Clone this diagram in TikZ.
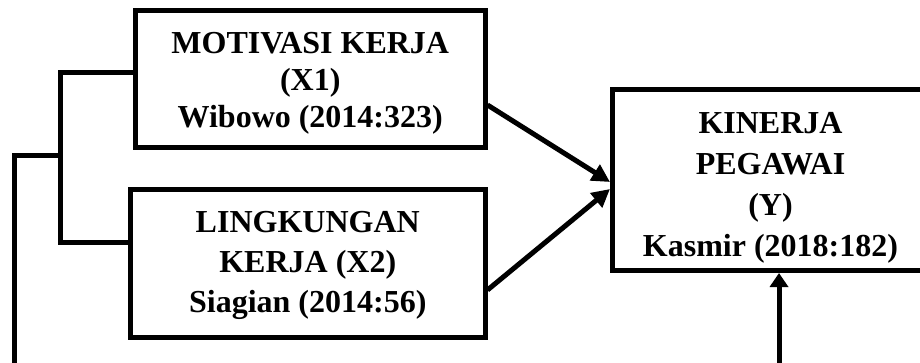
\documentclass[tikz,border=0pt]{standalone}
\usepackage{fontspec}
\setmainfont{Liberation Serif}
\usetikzlibrary{arrows.meta}
\begin{document}
\begin{tikzpicture}[x=1pt,y=-1pt,
  box/.style={draw, line width=5pt, inner sep=0pt},
  txt/.style={align=center, inner sep=0pt},
  conn/.style={line width=5pt},
  arr/.style={line width=5pt, -{Triangle[length=18pt,width=18pt]}},
  uparr/.style={line width=5pt, -{Triangle[length=14pt,width=18pt]}}]
\useasboundingbox (0,0) rectangle (920,362);
\clip (0,0) rectangle (920,362);
\node[box, minimum width=349.5pt, minimum height=137pt] (x1) at (310.25,79) {};
\node[txt, font=\bfseries\fontsize{32}{37}\selectfont] (x1t) at ([yshift=-4pt]x1.center)
  {MOTIVASI KERJA\\(X1)\\Wibowo (2014:323)};
\node[box, minimum width=354.5pt, minimum height=148pt] (x2) at (307.75,263.5) {};
\node[txt, font=\bfseries\fontsize{32}{40}\selectfont] (x2t) at ([yshift=-2pt]x2.center)
  {LINGKUNGAN\\KERJA (X2)\\Siagian (2014:56)};
\node[box, minimum width=320pt, minimum height=181pt] (y) at (772.5,180) {};
\node[txt, font=\bfseries\fontsize{32}{41}\selectfont] (yt) at ([xshift=-2pt,yshift=-8pt]y.center)
  {KINERJA\\PEGAWAI\\(Y)\\Kasmir (2018:182)};
\coordinate (bt) at (60,72);
\coordinate (bb) at (60,242);
\coordinate (bm) at (60,155);
\coordinate (lc) at (14,155);
\coordinate (ld) at (14,400);
\coordinate (rd) at (779,400);
\draw[conn, line join=miter] (x1.west |- bt) -- (bt) -- (bb) -- (x2.west |- bb);
\draw[conn, line join=miter] (bm) -- (lc) -- (ld) -- (rd);
\draw[uparr] (rd) -- (y.south -| rd);
\draw[arr] ([yshift=-26pt]x1.east) -- ([yshift=-2pt]y.west);
\draw[arr] ([yshift=-26.5pt]x2.east) -- ([yshift=-9pt]y.west);
\end{tikzpicture}
\end{document}
